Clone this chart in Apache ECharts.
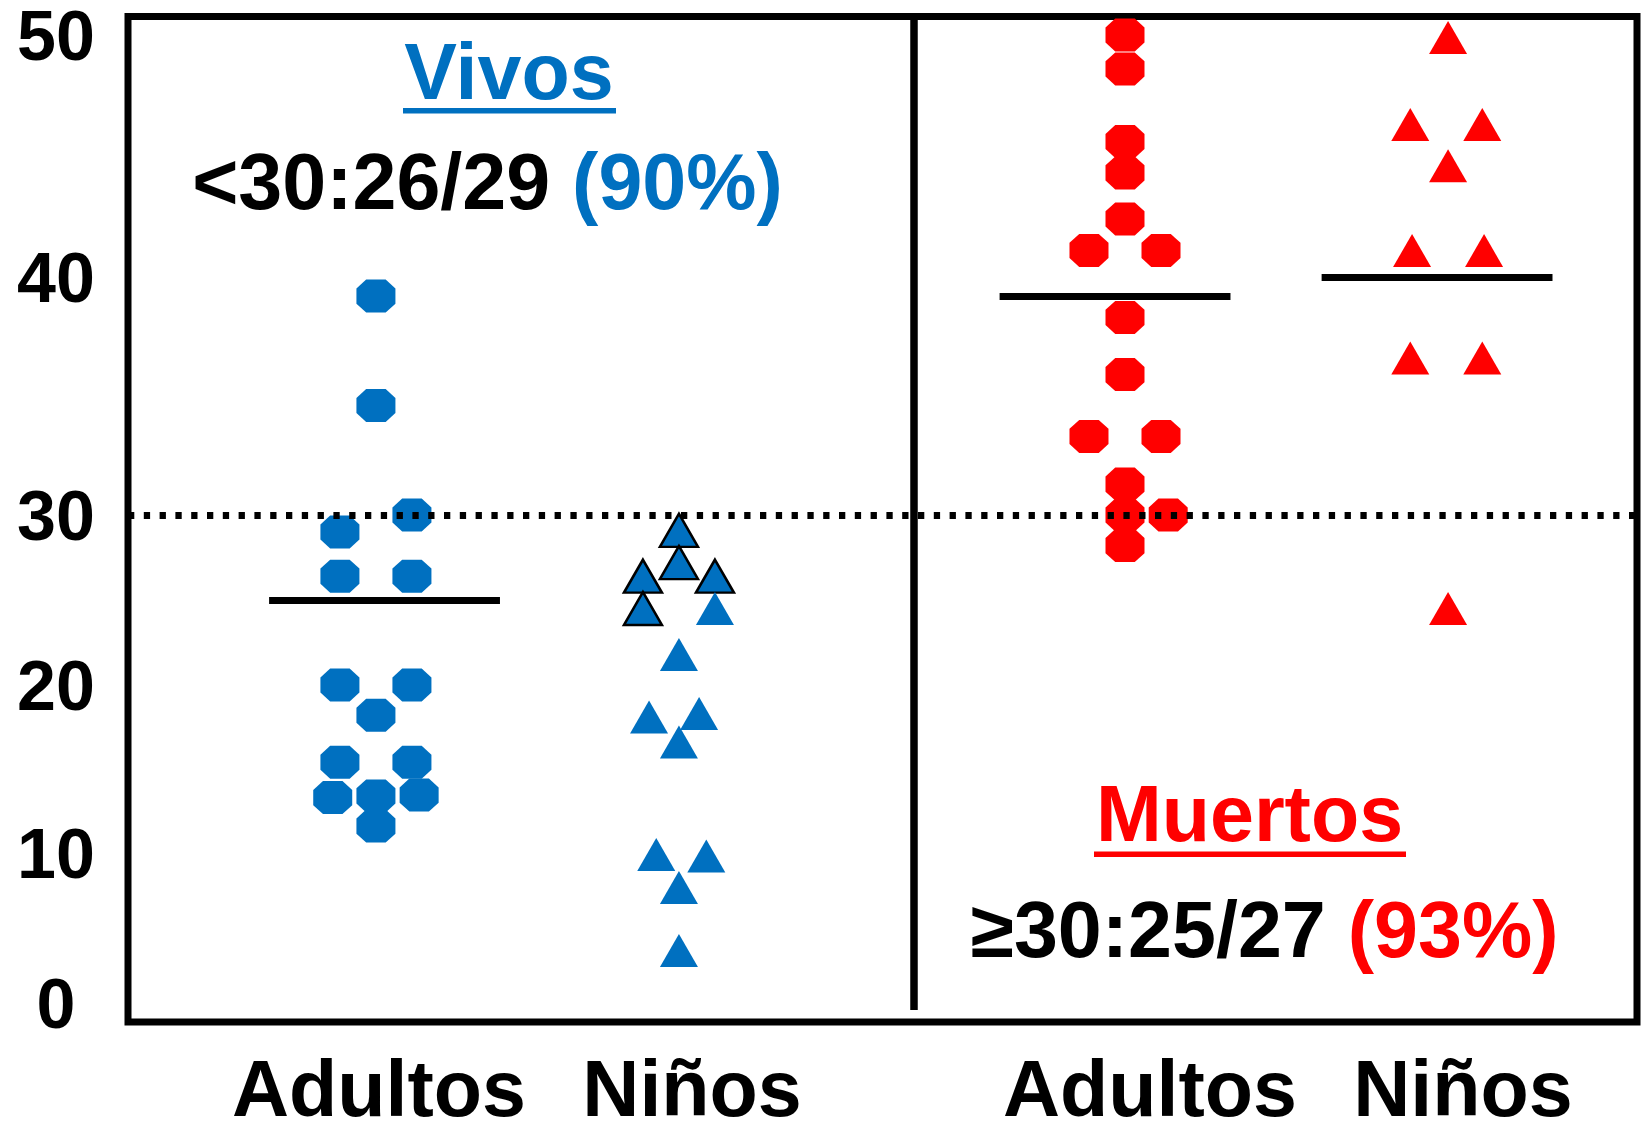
<!DOCTYPE html>
<html>
<head>
<meta charset="utf-8">
<script src="https://cdn.jsdelivr.net/npm/echarts@6/dist/echarts.min.js"></script>
<style>
  html, body { margin: 0; padding: 0; background: #fff; }
  #chart { width: 1642px; height: 1123px; }
</style>
</head>
<body>
<div id="chart"></div>
<script>
// ---- Datos ----
const categorias = ['Adultos', 'Niños', 'Adultos', 'Niños'];
const marcasEjeY = [0, 10, 20, 30, 40, 50];
const umbral = 30;

// Valores individuales de cada grupo y su carril horizontal dentro de la columna
const vivosAdultos       = [39.2, 34.6, 30.0, 29.0, 26.4, 26.4, 20.0, 20.0, 18.2, 15.4, 15.4, 13.3, 13.4, 13.45, 11.6];
const vivosAdultosCarril = [0, 0, 1, -1, -1, 1, -1, 1, 0, -1, 1, -1.2, 0, 1.2, 0];

const vivosNinos         = [29.1, 27.2, 26.4, 26.4, 24.5, 24.5, 21.8, 18.1, 18.3, 16.6, 9.9, 9.8, 7.7, 3.5];
const vivosNinosCarril   = [0, 0, -1, 1, -1, 1, 0, -0.83, 0.56, 0, -0.63, 0.76, 0, 0];
const vivosNinosResaltados = [0, 1, 2, 3, 4];

const muertosAdultos       = [50.0, 48.6, 45.6, 44.3, 42.4, 41.1, 41.1, 38.3, 35.9, 33.3, 33.3, 31.3, 30.0, 30.0, 28.2];
const muertosAdultosCarril = [0, 0, 0, 0, 0, -1, 1, 0, 0, -1, 1, 0, 0, 1.2, 0];

const muertosNinos       = [49.9, 46.3, 46.3, 44.6, 41.1, 41.1, 36.6, 36.6, 24.5];
const muertosNinosCarril = [0, -1.05, 0.95, 0, -1, 1, -1.05, 0.95, 0];

// Línea de referencia de cada grupo (null = sin línea)
const lineasReferencia = [25.0, null, 39.2, 40.0];

// ---- Diseño ----
const AZUL = '#0070C0';
const ROJO = '#FF0000';
const FUENTE = '"Liberation Sans", Arial, Helvetica, sans-serif';

const MARCO = { left: 128, top: 16.5, right: 1637, bottom: 1022 };
// Posición vertical (px) de cada marca impresa del eje: los tramos no son uniformes
const POS_MARCA = [1003, 853, 685, 515, 277, 35];

// Posiciones horizontales en % del ancho del gráfico
const X_GRUPO = [16.43, 36.51, 66.07, 87.48];
const X_ETIQUETA = [16.63, 37.38, 67.73, 88.47];
const X_LINEA = [17.0, null, 65.41, 86.75];
const MEDIO_ANCHO_LINEA = 7.65;
const CARRIL = 2.386;
const X_DIVISION = 52.09;

const OCTOGONO = 'path://M25 0L75 0L100 27L100 73L75 100L25 100L0 73L0 27Z';

const grupos = [
  { valores: vivosAdultos,   carril: vivosAdultosCarril,   simbolo: OCTOGONO,   tam: [39, 33], color: AZUL, resaltados: [] },
  { valores: vivosNinos,     carril: vivosNinosCarril,     simbolo: 'triangle', tam: [38, 33], color: AZUL, resaltados: vivosNinosResaltados },
  { valores: muertosAdultos, carril: muertosAdultosCarril, simbolo: OCTOGONO,   tam: [39, 33], color: ROJO, resaltados: [] },
  { valores: muertosNinos,   carril: muertosNinosCarril,   simbolo: 'triangle', tam: [38, 33], color: ROJO, resaltados: [] }
];

const NUM_TRAMOS = marcasEjeY.length - 1;
function tramoDe(v) {
  const paso = marcasEjeY[1] - marcasEjeY[0];
  return Math.min(NUM_TRAMOS - 1, Math.max(0, Math.floor((v - marcasEjeY[0]) / paso)));
}

const anchoMarco = MARCO.right - MARCO.left;

// Rejilla 0: marco completo; rejillas 1..5: un tramo del eje vertical cada una
const grid = [{
  left: MARCO.left, top: MARCO.top, width: anchoMarco, height: MARCO.bottom - MARCO.top,
  outerBoundsMode: 'none', containLabel: false,
  show: true, borderColor: '#000', borderWidth: 7, backgroundColor: 'transparent'
}];
const xAxis = [{
  gridIndex: 0, type: 'value', min: 0, max: 100,
  axisLine: { show: false }, axisTick: { show: false }, splitLine: { show: false },
  axisLabel: {
    customValues: X_ETIQUETA,
    formatter: function (v) {
      let best = 0;
      X_ETIQUETA.forEach(function (p, i) { if (Math.abs(p - v) < Math.abs(X_ETIQUETA[best] - v)) best = i; });
      return categorias[best];
    },
    margin: 33, fontSize: 79, lineHeight: 79, fontWeight: 'bold', fontFamily: FUENTE, color: '#000'
  }
}];
const yAxis = [{ gridIndex: 0, type: 'value', min: 0, max: 1, show: false }];

const estiloMarcaY = { fontSize: 70, fontWeight: 'bold', fontFamily: FUENTE, color: '#000', padding: [12, 0, 0, 0] };

for (let s = 0; s < NUM_TRAMOS; s++) {
  grid.push({
    left: MARCO.left, width: anchoMarco,
    top: POS_MARCA[s + 1], height: POS_MARCA[s] - POS_MARCA[s + 1],
    outerBoundsMode: 'none', containLabel: false, show: false
  });
  xAxis.push({ gridIndex: s + 1, type: 'value', min: 0, max: 100, show: false });
  yAxis.push({
    gridIndex: s + 1, type: 'value', min: marcasEjeY[s], max: marcasEjeY[s + 1],
    axisLine: { show: false }, axisTick: { show: false }, splitLine: { show: false },
    axisLabel: {
      customValues: s === NUM_TRAMOS - 1 ? [marcasEjeY[s], marcasEjeY[s + 1]] : [marcasEjeY[s]],
      formatter: '{m|{value}}',
      rich: { m: estiloMarcaY },
      margin: 72, align: 'center',
      fontSize: 70, fontWeight: 'bold', fontFamily: FUENTE, color: '#000'
    }
  });
}

const series = [];

// Puntos de cada grupo, repartidos en el tramo que les corresponde
grupos.forEach(function (g, gi) {
  const porTramo = [];
  g.valores.forEach(function (v, i) {
    const s = tramoDe(v);
    (porTramo[s] = porTramo[s] || []).push({
      value: [X_GRUPO[gi] + g.carril[i] * CARRIL, v],
      itemStyle: g.resaltados.indexOf(i) >= 0 ? { borderColor: '#000', borderWidth: 2.5 } : undefined
    });
  });
  porTramo.forEach(function (datos, s) {
    if (!datos) return;
    series.push({
      type: 'scatter', xAxisIndex: s + 1, yAxisIndex: s + 1,
      symbol: g.simbolo, symbolSize: g.tam, clip: false, silent: true,
      itemStyle: { color: g.color, opacity: 1 },
      data: datos
    });
  });
});

// Líneas horizontales de referencia por grupo
lineasReferencia.forEach(function (m, gi) {
  if (m === null) return;
  const s = tramoDe(m);
  series.push({
    type: 'scatter', xAxisIndex: s + 1, yAxisIndex: s + 1, data: [], silent: true,
    markLine: {
      silent: true, symbol: ['none', 'none'], label: { show: false },
      lineStyle: { color: '#000', width: 7, type: 'solid', opacity: 1 },
      data: [[{ coord: [X_LINEA[gi] - MEDIO_ANCHO_LINEA, m] }, { coord: [X_LINEA[gi] + MEDIO_ANCHO_LINEA, m] }]]
    }
  });
});

// Umbral punteado
const tU = tramoDe(umbral);
series.push({
  type: 'scatter', xAxisIndex: tU + 1, yAxisIndex: tU + 1, data: [], silent: true,
  markLine: {
    silent: true, symbol: ['none', 'none'], label: { show: false },
    lineStyle: { color: '#000', width: 7, type: [6.3, 9.5], cap: 'butt', opacity: 1 },
    data: [{ yAxis: umbral }]
  }
});

// División vertical entre vivos y muertos
series.push({
  type: 'scatter', xAxisIndex: 0, yAxisIndex: 0, data: [], silent: true,
  markLine: {
    silent: true, symbol: ['none', 'none'], label: { show: false },
    lineStyle: { color: '#000', width: 7.5, type: 'solid', opacity: 1 },
    data: [[{ coord: [X_DIVISION, 1] }, { coord: [X_DIVISION, 0.012] }]]
  }
});

const base = { fontSize: 79, fontWeight: 'bold', fontFamily: FUENTE };
function estilo(color) { return Object.assign({ fill: color }, base); }

function texto(x, y, contenido, rich) {
  return {
    type: 'text', x: x, y: y, silent: true, z: 10,
    style: Object.assign({
      text: contenido, rich: rich, align: 'center', verticalAlign: 'middle', fill: '#000'
    }, base)
  };
}

const graphic = [
  texto(509, 77, '{t|Vivos}', { t: estilo(AZUL) }),
  { type: 'rect', silent: true, shape: { x: 403, y: 108, width: 213, height: 5.5 }, style: { fill: AZUL } },
  texto(487.5, 187, '{n|<30:26/29 }{p|(90%)}', { n: estilo('#000'), p: estilo(AZUL) }),
  texto(1249.5, 819, '{t|Muertos}', { t: estilo(ROJO) }),
  { type: 'rect', silent: true, shape: { x: 1094, y: 851.5, width: 312, height: 5.5 }, style: { fill: ROJO } },
  texto(1264.5, 935.5, '{n|≥30:25/27 }{p|(93%)}', { n: estilo('#000'), p: estilo(ROJO) })
];

const chart = echarts.init(document.getElementById('chart'), null, { renderer: 'canvas' });
chart.setOption({
  animation: false,
  backgroundColor: '#fff',
  grid: grid,
  xAxis: xAxis,
  yAxis: yAxis,
  series: series,
  graphic: graphic
});
</script>
</body>
</html>
